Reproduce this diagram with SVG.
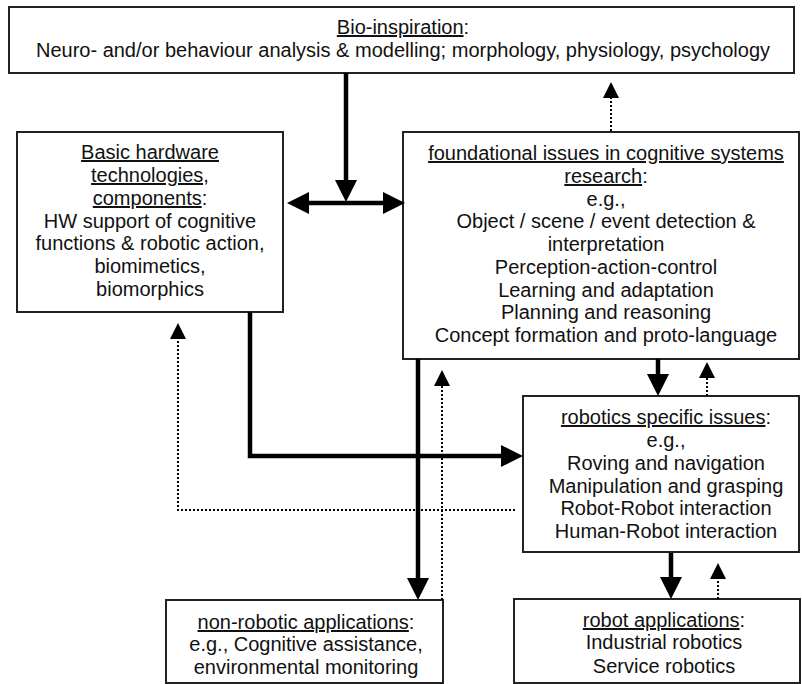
<svg xmlns="http://www.w3.org/2000/svg" width="802" height="684" viewBox="0 0 802 684">
<style>
.box{fill:#fff;stroke:#222;stroke-width:2}
text{font-family:"Liberation Sans",Arial,sans-serif;font-size:20px;fill:#111;text-anchor:middle}
.u{text-decoration:underline}
.thick{fill:none;stroke:#000;stroke-width:4.5}
.dot{fill:none;stroke:#000;stroke-width:2;stroke-dasharray:2 2}
</style>
<defs>
<marker id="ah" markerUnits="userSpaceOnUse" markerWidth="22" markerHeight="22" viewBox="0 0 22 22" refX="12" refY="11" orient="auto-start-reverse"><path d="M0,0 L22,11 L0,22 z" fill="#000"/></marker>
<marker id="dh" markerUnits="userSpaceOnUse" markerWidth="16" markerHeight="16" viewBox="0 0 16 16" refX="3" refY="8" orient="auto"><path d="M0,0 L16,8 L0,16 z" fill="#000"/></marker>
</defs>
<rect width="802" height="684" fill="#fff"/>

<g id="bio">
<rect class="box" x="9" y="7" width="785" height="66"/>
<text x="403" y="34"><tspan class="u">Bio-inspiration</tspan>:</text>
<text x="403" y="57">Neuro- and/or behaviour analysis &amp; modelling; morphology, physiology, psychology</text>
</g>

<g id="hardware">
<rect class="box" x="17" y="132" width="266" height="180"/>
<text x="150" y="159" class="u">Basic hardware</text>
<text x="150" y="182" class="u">technologies,</text>
<text x="150" y="205"><tspan class="u">components</tspan>:</text>
<text x="150" y="228">HW support of cognitive</text>
<text x="150" y="250">functions &amp; robotic action,</text>
<text x="150" y="273">biomimetics,</text>
<text x="150" y="296">biomorphics</text>
</g>

<g id="foundational">
<rect class="box" x="403" y="132" width="396" height="227"/>
<text x="606" y="160" class="u">foundational issues in cognitive systems</text>
<text x="606" y="183"><tspan class="u">research</tspan>:</text>
<text x="606" y="206">e.g.,</text>
<text x="606" y="228">Object / scene / event detection &amp;</text>
<text x="606" y="251">interpretation</text>
<text x="606" y="274">Perception-action-control</text>
<text x="606" y="297">Learning and adaptation</text>
<text x="606" y="319">Planning and reasoning</text>
<text x="606" y="342">Concept formation and proto-language</text>
</g>

<g id="robotics">
<rect class="box" x="523" y="396" width="276" height="156"/>
<text x="666" y="424"><tspan class="u">robotics specific issues</tspan>:</text>
<text x="666" y="447">e.g.,</text>
<text x="666" y="470">Roving and navigation</text>
<text x="666" y="493">Manipulation and grasping</text>
<text x="666" y="515">Robot-Robot interaction</text>
<text x="666" y="538">Human-Robot interaction</text>
</g>

<g id="nonrobotic">
<rect class="box" x="166" y="600" width="277" height="83"/>
<text x="306" y="629"><tspan class="u">non-robotic applications</tspan>:</text>
<text x="306" y="651">e.g., Cognitive assistance,</text>
<text x="306" y="674">environmental monitoring</text>
</g>

<g id="robotapps">
<rect class="box" x="514" y="599" width="286" height="84"/>
<text x="664" y="627"><tspan class="u">robot applications</tspan>:</text>
<text x="664" y="649">Industrial robotics</text>
<text x="664" y="673">Service robotics</text>
</g>

<g id="connectors">
<path class="thick" d="M346,73 V192" marker-end="url(#ah)"/>
<path class="thick" d="M297,203 H395" marker-start="url(#ah)" marker-end="url(#ah)"/>
<path class="thick" d="M250,312 V456 H513" marker-end="url(#ah)"/>
<path class="thick" d="M418,359 V590" marker-end="url(#ah)"/>
<path class="thick" d="M658,359 V386" marker-end="url(#ah)"/>
<path class="thick" d="M671,553 V589" marker-end="url(#ah)"/>
<path class="dot" d="M611,131 V95" marker-end="url(#dh)"/>
<path class="dot" d="M707,396 V375" marker-end="url(#dh)"/>
<path class="dot" d="M718,599 V576" marker-end="url(#dh)"/>
<path class="dot" d="M442,600 V383" marker-end="url(#dh)"/>
<path class="dot" d="M515,510 H178 V336" marker-end="url(#dh)"/>
</g>
</svg>
